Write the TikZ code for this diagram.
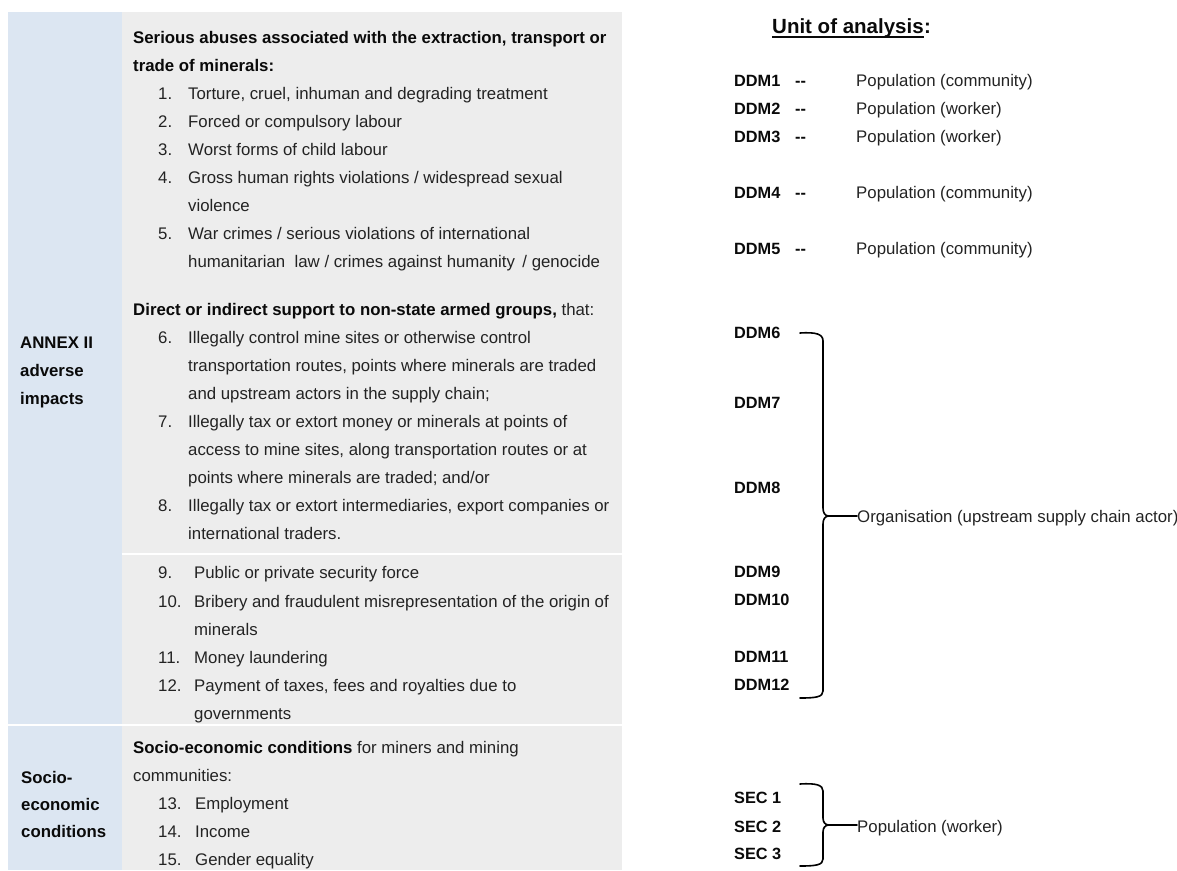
\documentclass[tikz,border=0pt]{standalone}
\usepackage{fontspec}
\setmainfont{Liberation Sans}[Ligatures=NoCommon]
\usetikzlibrary{calc}
\definecolor{bluecol}{RGB}{220,230,242}
\definecolor{greycol}{RGB}{237,237,237}
\definecolor{txtc}{RGB}{35,35,35}
\definecolor{boldc}{RGB}{10,10,10}
\tikzset{
  lt/.style={anchor=base west, inner sep=0pt, text=txtc, font={\fontsize{16.8}{20}\selectfont}},
  lb/.style={lt, text=boldc, font={\bfseries\fontsize{16.8}{20}\selectfont}},
  rt/.style={anchor=base west, inner sep=0pt, text=txtc, font={\fontsize{16.8}{20}\selectfont}},
  rb/.style={rt, text=boldc, font={\bfseries\fontsize{16.3}{20}\selectfont}},
  ub/.style={anchor=base west, inner sep=0pt, text=boldc, font={\bfseries\fontsize{20.5}{24}\selectfont}},
  bracestyle/.style={draw=black, line width=1.6pt, line join=round, line cap=round},
  sepline/.style={draw=white, line width=2pt}
}
\newcommand{\bt}[1]{\textcolor{boldc}{\bfseries #1}}
\newcommand{\dd}{-{}-}
\begin{document}
\begin{tikzpicture}[x=1pt,y=-1pt]
\useasboundingbox (0,0) rectangle (1177,870);
% table background
\fill[bluecol] (8,12) rectangle (121.7,870);
\fill[greycol] (121.7,12) rectangle (621.6,870);
\draw[sepline] (121.7,554) -- (621.6,554);
\draw[sepline] (8,725) -- (621.6,725);
% left labels
\node[lb] (annexa) at (20,348) {ANNEX II};
\node[lb] (annexb) at (20,376) {adverse};
\node[lb] (annexc) at (20,404) {impacts};
\node[lb] (seca) at (21,783) {Socio-};
\node[lb] (secb) at (21,810) {economic};
\node[lb] (secc) at (21,837) {conditions};
% section 1
\node[lb] (h1a) at (133,43) {Serious abuses associated with the extraction, transport or};
\node[lb] (h1b) at (133,71) {trade of minerals:};
\node[lt] (n1) at (158,99) {1.};  \node[lt] (t1) at (188,99) {Torture, cruel, inhuman and degrading treatment};
\node[lt] (n2) at (158,127) {2.}; \node[lt] (t2) at (188,127) {Forced or compulsory labour};
\node[lt] (n3) at (158,155) {3.}; \node[lt] (t3) at (188,155) {Worst forms of child labour};
\node[lt] (n4) at (158,183) {4.}; \node[lt] (t4) at (188,183) {Gross human rights violations / widespread sexual};
\node[lt] (t4b) at (188,211) {violence};
\node[lt] (n5) at (158,239) {5.}; \node[lt] (t5) at (188,239) {War crimes / serious violations of international};
\node[lt] (t5b) at (188,267) {humanitarian \ law / crimes against humanity \,/ genocide};
% section 2
\node[lt] (h2) at (133,315) {\bt{Direct or indirect support to non-state armed groups,} that:};
\node[lt] (n6) at (158,343) {6.}; \node[lt] (t6) at (188,343) {Illegally control mine sites or otherwise control};
\node[lt] (t6b) at (188,371) {transportation routes, points where minerals are traded};
\node[lt] (t6c) at (188,399) {and upstream actors in the supply chain;};
\node[lt] (n7) at (158,427) {7.}; \node[lt] (t7) at (188,427) {Illegally tax or extort money or minerals at points of};
\node[lt] (t7b) at (188,455) {access to mine sites, along transportation routes or at};
\node[lt] (t7c) at (188,483) {points where minerals are traded; and/or};
\node[lt] (n8) at (158,511) {8.}; \node[lt] (t8) at (188,511) {Illegally tax or extort intermediaries, export companies or};
\node[lt] (t8b) at (188,539) {international traders.};
% section 3
\node[lt] (n9) at (158,578) {9.};   \node[lt] (t9) at (194,578) {Public or private security force};
\node[lt] (n10) at (158,607) {10.}; \node[lt] (t10) at (194,607) {Bribery and fraudulent misrepresentation of the origin of};
\node[lt] (t10b) at (194,635) {minerals};
\node[lt] (n11) at (158,663) {11.}; \node[lt] (t11) at (194,663) {Money laundering};
\node[lt] (n12) at (158,691) {12.}; \node[lt] (t12) at (194,691) {Payment of taxes, fees and royalties due to};
\node[lt] (t12b) at (194,719) {governments};
% section 4
\node[lt] (h4) at (133,753) {\bt{Socio-economic conditions} for miners and mining};
\node[lt] (h4b) at (133,781) {communities:};
\node[lt] (n13) at (158,809) {13.}; \node[lt] (t13) at (195,809) {Employment};
\node[lt] (n14) at (158,837) {14.}; \node[lt] (t14) at (195,837) {Income};
\node[lt] (n15) at (158,865) {15.}; \node[lt] (t15) at (195,865) {Gender equality};
% right side
\node[ub] (unit) at (772,33) {Unit of analysis};
\node[ub, anchor=base west] (colon) at (unit.base east) {:};
\draw[line width=1.5pt, boldc] ($(unit.base west)+(0,4)$) -- ($(unit.base east)+(0,4)$);
\node[rb] (d1) at (734,86) {DDM1};  \node[rb] (x1) at (795,86) {\dd};  \node[rt] (p1) at (856,86) {Population (community)};
\node[rb] (d2) at (734,114) {DDM2}; \node[rb] (x2) at (795,114) {\dd}; \node[rt] (p2) at (856,114) {Population (worker)};
\node[rb] (d3) at (734,142) {DDM3}; \node[rb] (x3) at (795,142) {\dd}; \node[rt] (p3) at (856,142) {Population (worker)};
\node[rb] (d4) at (734,198) {DDM4}; \node[rb] (x4) at (795,198) {\dd}; \node[rt] (p4) at (856,198) {Population (community)};
\node[rb] (d5) at (734,254) {DDM5}; \node[rb] (x5) at (795,254) {\dd}; \node[rt] (p5) at (856,254) {Population (community)};
\node[rb] (d6) at (734,338) {DDM6};
\node[rb] (d7) at (734,408) {DDM7};
\node[rb] (d8) at (734,493) {DDM8};
\node[rb] (d9) at (734,577) {DDM9};
\node[rb] (d10) at (734,605) {DDM10};
\node[rb] (d11) at (734,662) {DDM11};
\node[rb] (d12) at (734,690) {DDM12};
\node[rb] (s1) at (734,803) {SEC 1};
\node[rb] (s2) at (734,832) {SEC 2};
\node[rb] (s3) at (734,859) {SEC 3};
\node[rt] (org) at (857,522) {Organisation (upstream supply chain actor)};
\node[rt] (popw) at (857,832) {Population (worker)};
% braces
\coordinate (bt) at (800,333);
\coordinate (bm) at (829,516);
\coordinate (bb) at (800,698);
\draw[bracestyle] (bt) .. controls (816,332) and (823,334) .. (823,341) -- (823,508)
   .. controls (823,513) and (825,516) .. (bm)
   .. controls (825,516) and (823,519) .. (823,524) -- (823,691)
   .. controls (823,697) and (816,698) .. (bb);
\draw[bracestyle] (bm) -- (org.west |- bm);
\coordinate (st) at (800,784);
\coordinate (sm) at (829,825);
\coordinate (sb) at (800,866);
\draw[bracestyle] (st) .. controls (816,783) and (823,785) .. (823,791) -- (823,818)
   .. controls (823,822) and (825,825) .. (sm)
   .. controls (825,825) and (823,828) .. (823,832) -- (823,859)
   .. controls (823,865) and (816,866) .. (sb);
\draw[bracestyle] (sm) -- (popw.west |- sm);
\end{tikzpicture}
\end{document}
